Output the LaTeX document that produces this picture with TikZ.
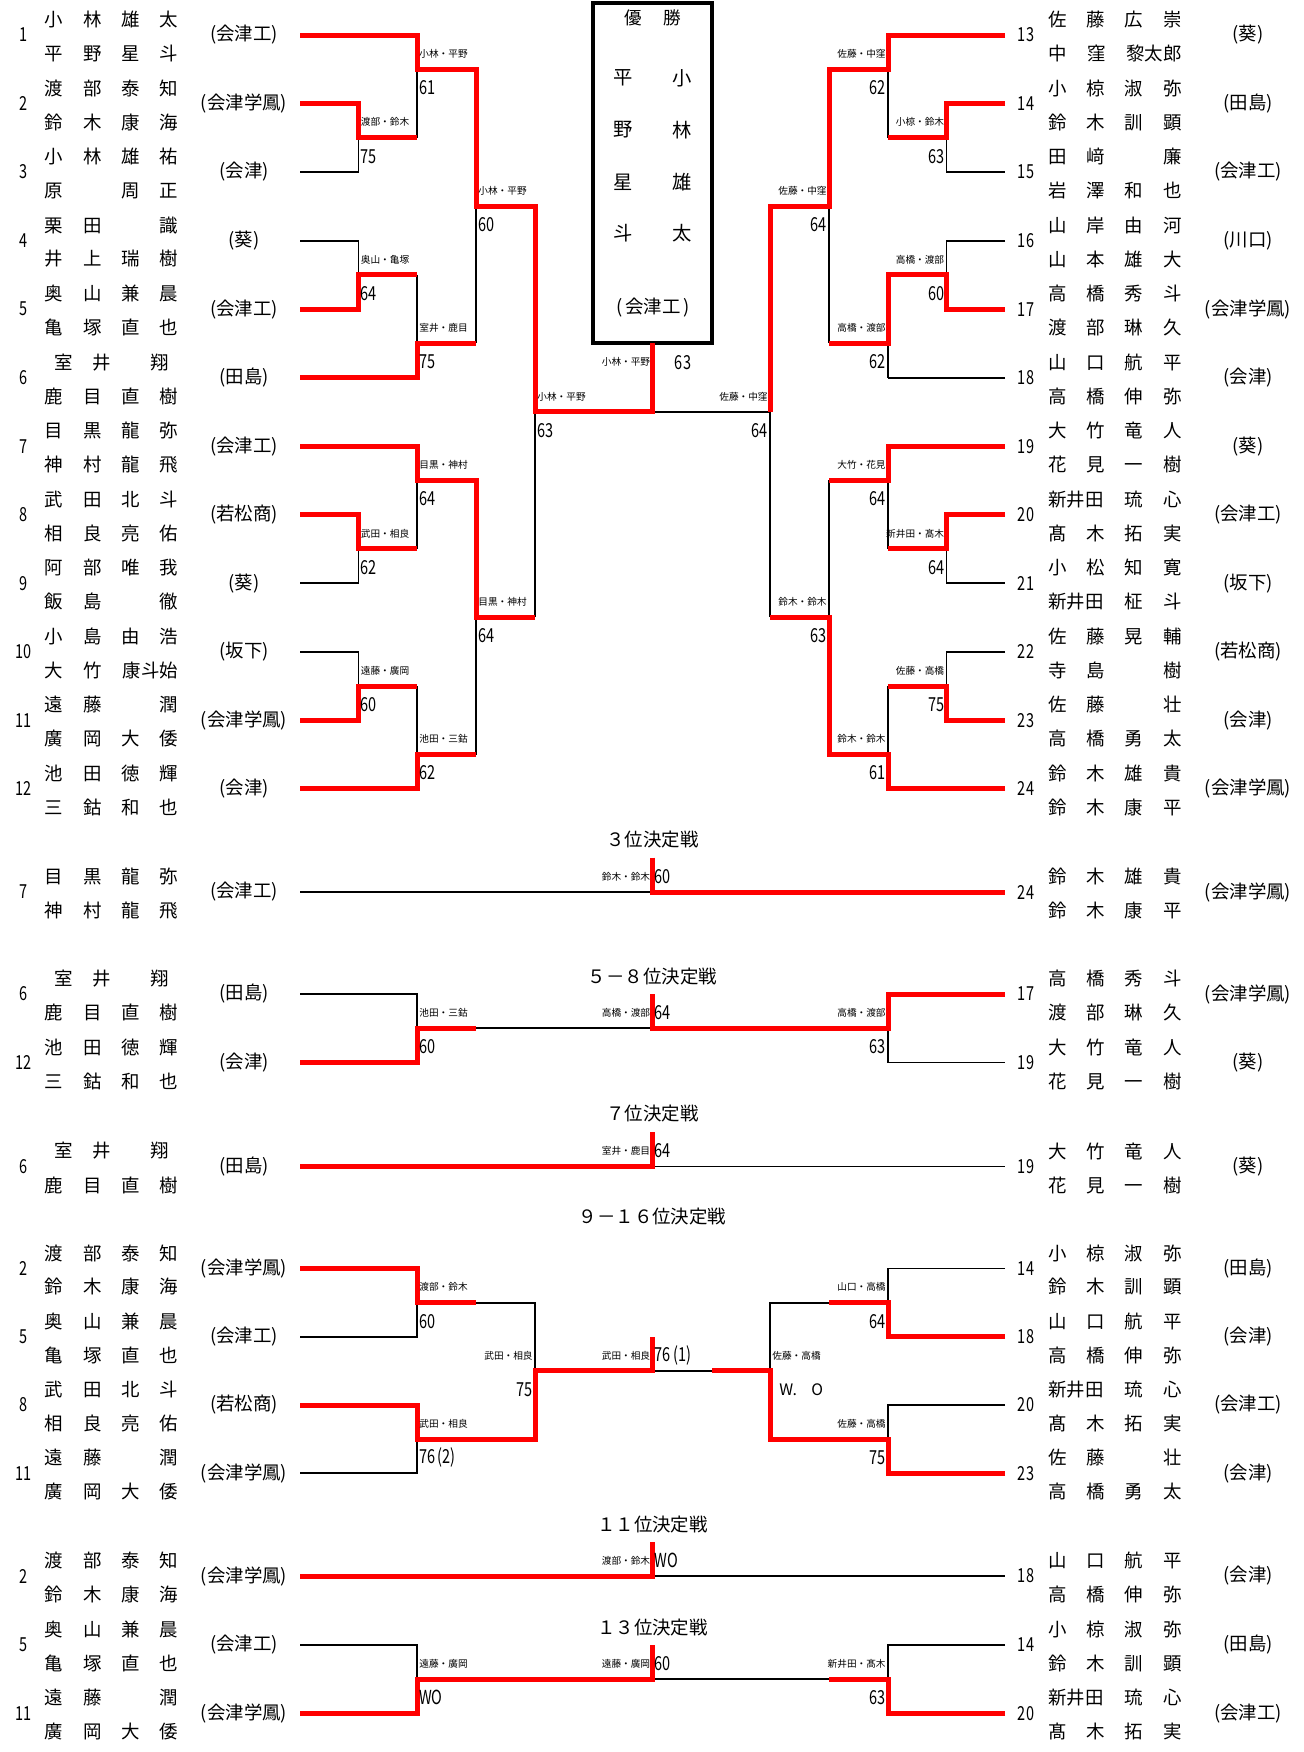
\documentclass[tikz,border=0pt]{standalone}
\usepackage{fontspec}
\setmainfont{Noto Sans CJK JP}
\usepackage{graphicx}
\usepackage{tikz}
\usetikzlibrary{positioning}

\newcommand\nmfont{\fontsize{10.5}{12}\selectfont}
\newcommand\lbfont{\fontsize{5.5}{6}\selectfont}
\newcommand\scfont{\fontsize{11}{12}\selectfont}
\newcommand\cnd[1]{\scalebox{0.75}[1]{#1}}
\newcommand\emc{\hphantom{口}}
\newcommand\nm[4]{\makebox[2.67cm][s]{#1\hfill#2\hfill#3\hfill#4}}
\newcommand\nmt[3]{\makebox[2.67cm][s]{#1\hfill#2\hfill#3}}
\newcommand\muroi{\makebox[2.67cm][l]{\hspace{0.2cm}室\hspace{0.39cm}井\hspace{0.79cm}翔}}

\tikzset{
  lose/.style={line width=1.1pt},
  win/.style={line width=2.85pt, red},
  seed/.style={font=\scfont, inner sep=0pt},
  pname/.style={font=\nmfont, inner sep=0pt},
  school/.style={font=\nmfont, inner sep=0pt},
  title/.style={font=\nmfont, inner sep=0pt},
  lbl/.style={font=\lbfont, inner sep=0pt, yshift=0.31cm},
  scr/.style={font=\scfont, inner sep=0pt, yshift=-0.37cm},
  cscr/.style={font=\scfont, inner sep=0pt, yshift=0.31cm},
  lr/.style={anchor=west, xshift=0.04cm},
  ll/.style={anchor=east, xshift=-0.04cm},
}

% entry: name, y, seed, upper player, lower player, school
\newcommand\entL[6]{%
  \node[seed] (#1) at (24,#2) {\cnd{#3}};
  \node[pname,yshift=0.31cm] (#1a) at (111.5,#2) {#4};
  \node[pname,yshift=-0.37cm] (#1b) at (111.5,#2) {#5};
  \node[school] (#1c) at (244,#2) {(#6)};}
\newcommand\entR[6]{%
  \node[seed] (#1) at (1026,#2) {\cnd{#3}};
  \node[pname,yshift=0.31cm] (#1a) at (1115,#2) {#4};
  \node[pname,yshift=-0.37cm] (#1b) at (1115,#2) {#5};
  \node[school] (#1c) at (1248,#2) {(#6)};}

\begin{document}
\begin{tikzpicture}[x=0.02cm,y=-0.02cm]
  \useasboundingbox (0,0) rectangle (1303,1752);

  % champion box
  \draw[line width=2.3pt] (593,3) rectangle (712,343);
  \node[font=\fontsize{10}{12}\selectfont, inner sep=0pt] (yusho) at (653,18) {優\hspace{0.44cm}勝};
  \foreach \y/\a/\b [count=\i] in {78/平/小,130/野/林,182/星/雄,233/斗/太}{
    \node[font=\fontsize{11}{12}\selectfont, inner sep=0pt] (cw\i) at (623,\y) {\a};
    \node[font=\fontsize{11}{12}\selectfont, inner sep=0pt] (ce\i) at (682,\y) {\b};
  }
  \node[school] (cs) at (653,308) {(\,会津工\,)};

  % main draw, rows of 34.27
  \begin{scope}[shift={(0,35)}, y=-0.6854cm]
    \foreach \za/\zb/\zc/\zd/\ze in {300/358.5/417/476/535, 1005/946.5/888/829/770}{
      \foreach \a/\b in {2/4,6/8,14/16,18/20}
        \draw[lose] (\za,\a) -| (\zb,\b) -- (\za,\b) (\zb,\a+1) -- (\zc,\a+1);
      \foreach \k in {0,10,12,22}
        \draw[lose] (\za,\k) -- (\zc,\k);
      \foreach \a/\b/\j in {0/3/1,7/10/9,12/15/13,19/22/21}
        \draw[lose] (\zc,\a) -- (\zc,\b) (\zc,\j) -- (\zd,\j);
      \foreach \a in {1,13}
        \draw[lose] (\zd,\a) -- (\zd,\a+8) (\zd,\a+4) -- (\ze,\a+4);
      \draw[lose] (\ze,5) -- (\ze,17) (\ze,11) -- (652.5,11);
    }
    % winners
    \draw[win] (300,0) -| (417,1) -| (476,5) -| (535,11) -| (652.5,9);
    \draw[win] (300,2) -| (358.5,3) -- (417,3);
    \draw[win] (300,8) -| (358.5,7) -- (417,7);
    \draw[win] (300,10) -| (417,9) -- (476,9);
    \draw[win] (300,12) -| (417,13) -| (476,17) -- (535,17);
    \draw[win] (300,14) -| (358.5,15) -- (417,15);
    \draw[win] (300,20) -| (358.5,19) -- (417,19);
    \draw[win] (300,22) -| (417,21) -- (476,21);
    \draw[win] (1005,0) -| (888,1) -| (829,5) -| (770,11);
    \draw[win] (1005,2) -| (946.5,3) -- (888,3);
    \draw[win] (1005,8) -| (946.5,7) -| (888,9) -- (829,9);
    \draw[win] (1005,12) -| (888,13) -- (829,13);
    \draw[win] (1005,14) -| (946.5,15) -- (888,15);
    \draw[win] (1005,20) -| (946.5,19) -- (888,19);
    \draw[win] (1005,22) -| (888,21) -| (829,17) -- (770,17);

    \foreach \x/\k/\t/\s [count=\i] in {417/1/小林・平野/61, 358.5/3/渡部・鈴木/75,
        358.5/7/奥山・亀塚/64, 417/9/室井・鹿目/75, 476/5/小林・平野/60,
        535/11/小林・平野/63, 417/13/目黒・神村/64, 358.5/15/武田・相良/62,
        358.5/19/遠藤・廣岡/60, 417/21/池田・三鈷/62, 476/17/目黒・神村/64}{
      \node[lbl,lr] (lp\i) at (\x,\k) {\t};
      \node[scr,lr] (ls\i) at (\x,\k) {\cnd{\s}};
    }
    \foreach \x/\k/\t/\s [count=\i] in {888/1/佐藤・中窪/62, 946.5/3/小椋・鈴木/63,
        946.5/7/高橋・渡部/60, 888/9/高橋・渡部/62, 829/5/佐藤・中窪/64,
        770/11/佐藤・中窪/64, 888/13/大竹・花見/64, 946.5/15/新井田・髙木/64,
        946.5/19/佐藤・高橋/75, 888/21/鈴木・鈴木/61, 829/17/鈴木・鈴木/63}{
      \node[lbl,ll] (rp\i) at (\x,\k) {\t};
      \node[scr,ll] (rs\i) at (\x,\k) {\cnd{\s}};
    }
    \node[lbl,ll] (fp) at (652.5,10) {小林・平野};
    \node[cscr] (fs) at (683,10) {\cnd{63}};

    \entL{l1}{0}{1}{\nm{小}{林}{雄}{太}}{\nm{平}{野}{星}{斗}}{会津工}
    \entL{l2}{2}{2}{\nm{渡}{部}{泰}{知}}{\nm{鈴}{木}{康}{海}}{会津学鳳}
    \entL{l3}{4}{3}{\nm{小}{林}{雄}{祐}}{\nm{原}{\emc}{周}{正}}{会津}
    \entL{l4}{6}{4}{\nm{栗}{田}{\emc}{識}}{\nm{井}{上}{瑞}{樹}}{葵}
    \entL{l5}{8}{5}{\nm{奥}{山}{兼}{晨}}{\nm{亀}{塚}{直}{也}}{会津工}
    \entL{l6}{10}{6}{\muroi}{\nm{鹿}{目}{直}{樹}}{田島}
    \entL{l7}{12}{7}{\nm{目}{黒}{龍}{弥}}{\nm{神}{村}{龍}{飛}}{会津工}
    \entL{l8}{14}{8}{\nm{武}{田}{北}{斗}}{\nm{相}{良}{亮}{佑}}{若松商}
    \entL{l9}{16}{9}{\nm{阿}{部}{唯}{我}}{\nm{飯}{島}{\emc}{徹}}{葵}
    \entL{l10}{18}{10}{\nm{小}{島}{由}{浩}}{\nmt{大}{竹}{康斗始}}{坂下}
    \entL{l11}{20}{11}{\nm{遠}{藤}{\emc}{潤}}{\nm{廣}{岡}{大}{倭}}{会津学鳳}
    \entL{l12}{22}{12}{\nm{池}{田}{徳}{輝}}{\nm{三}{鈷}{和}{也}}{会津}
    \entR{r13}{0}{13}{\nm{佐}{藤}{広}{崇}}{\nmt{中}{窪}{黎太郎}}{葵}
    \entR{r14}{2}{14}{\nm{小}{椋}{淑}{弥}}{\nm{鈴}{木}{訓}{顕}}{田島}
    \entR{r15}{4}{15}{\nm{田}{﨑}{\emc}{廉}}{\nm{岩}{澤}{和}{也}}{会津工}
    \entR{r16}{6}{16}{\nm{山}{岸}{由}{河}}{\nm{山}{本}{雄}{大}}{川口}
    \entR{r17}{8}{17}{\nm{高}{橋}{秀}{斗}}{\nm{渡}{部}{琳}{久}}{会津学鳳}
    \entR{r18}{10}{18}{\nm{山}{口}{航}{平}}{\nm{高}{橋}{伸}{弥}}{会津}
    \entR{r19}{12}{19}{\nm{大}{竹}{竜}{人}}{\nm{花}{見}{一}{樹}}{葵}
    \entR{r20}{14}{20}{\nmt{新井田}{琉}{心}}{\nm{髙}{木}{拓}{実}}{会津工}
    \entR{r21}{16}{21}{\nm{小}{松}{知}{寛}}{\nmt{新井田}{柾}{斗}}{坂下}
    \entR{r22}{18}{22}{\nm{佐}{藤}{晃}{輔}}{\nm{寺}{島}{\emc}{樹}}{若松商}
    \entR{r23}{20}{23}{\nm{佐}{藤}{\emc}{壮}}{\nm{高}{橋}{勇}{太}}{会津}
    \entR{r24}{22}{24}{\nm{鈴}{木}{雄}{貴}}{\nm{鈴}{木}{康}{平}}{会津学鳳}
  \end{scope}

  % 3rd place
  \node[title] (t3) at (652.5,840) {３位決定戦};
  \entL{a7}{892}{7}{\nm{目}{黒}{龍}{弥}}{\nm{神}{村}{龍}{飛}}{会津工}
  \entR{a24}{892}{24}{\nm{鈴}{木}{雄}{貴}}{\nm{鈴}{木}{康}{平}}{会津学鳳}
  \draw[lose] (300,892) -- (1005,892);
  \draw[win] (652.5,857.7) |- (1005,892);
  \node[lbl,ll] (ap) at (652.5,892) {鈴木・鈴木};
  \node[cscr,lr] (as) at (652.5,892) {\cnd{60}};

  % 5-8
  \node[title] (t5) at (652.5,977) {５－８位決定戦};
  \entL{b6}{994}{6}{\muroi}{\nm{鹿}{目}{直}{樹}}{田島}
  \entL{b12}{1062.5}{12}{\nm{池}{田}{徳}{輝}}{\nm{三}{鈷}{和}{也}}{会津}
  \entR{b17}{994}{17}{\nm{高}{橋}{秀}{斗}}{\nm{渡}{部}{琳}{久}}{会津学鳳}
  \entR{b19}{1062.5}{19}{\nm{大}{竹}{竜}{人}}{\nm{花}{見}{一}{樹}}{葵}
  \draw[lose] (300,994) -| (417,1062.5) -- (300,1062.5) (417,1028.2) -- (888,1028.2)
    (1005,994) -| (888,1062.5) -- (1005,1062.5);
  \draw[win] (300,1062.5) -| (417,1028.2) -- (476,1028.2);
  \draw[win] (652.5,994) |- (888,1028.2) |- (1005,994);
  \node[lbl,lr] (bp1) at (417,1028.2) {池田・三鈷};
  \node[scr,lr] (bs1) at (417,1028.2) {\cnd{60}};
  \node[lbl,ll] (bp2) at (652.5,1028.2) {高橋・渡部};
  \node[cscr,lr] (bs2) at (652.5,1028.2) {\cnd{64}};
  \node[lbl,ll] (bp3) at (888,1028.2) {高橋・渡部};
  \node[scr,ll] (bs3) at (888,1028.2) {\cnd{63}};

  % 7th
  \node[title] (t7) at (652.5,1114) {７位決定戦};
  \entL{c6}{1166.5}{6}{\muroi}{\nm{鹿}{目}{直}{樹}}{田島}
  \entR{c19}{1166.5}{19}{\nm{大}{竹}{竜}{人}}{\nm{花}{見}{一}{樹}}{葵}
  \draw[lose] (300,1166.5) -- (1005,1166.5);
  \draw[win] (300,1166.5) -| (652.5,1132.2);
  \node[lbl,ll] (cp) at (652.5,1166.5) {室井・鹿目};
  \node[cscr,lr] (cs) at (652.5,1166.5) {\cnd{64}};

  % 9-16
  \node[title] (t9) at (652.5,1217) {９－１６位決定戦};
  \entL{d2}{1268.5}{2}{\nm{渡}{部}{泰}{知}}{\nm{鈴}{木}{康}{海}}{会津学鳳}
  \entL{d5}{1336.8}{5}{\nm{奥}{山}{兼}{晨}}{\nm{亀}{塚}{直}{也}}{会津工}
  \entL{d8}{1405}{8}{\nm{武}{田}{北}{斗}}{\nm{相}{良}{亮}{佑}}{若松商}
  \entL{d11}{1473.3}{11}{\nm{遠}{藤}{\emc}{潤}}{\nm{廣}{岡}{大}{倭}}{会津学鳳}
  \entR{d14}{1268.5}{14}{\nm{小}{椋}{淑}{弥}}{\nm{鈴}{木}{訓}{顕}}{田島}
  \entR{d18}{1336.8}{18}{\nm{山}{口}{航}{平}}{\nm{高}{橋}{伸}{弥}}{会津}
  \entR{d20}{1405}{20}{\nmt{新井田}{琉}{心}}{\nm{髙}{木}{拓}{実}}{会津工}
  \entR{d23}{1473.3}{23}{\nm{佐}{藤}{\emc}{壮}}{\nm{高}{橋}{勇}{太}}{会津}
  \draw[lose] (300,1268.5) -| (417,1336.8) -- (300,1336.8)
    (300,1405) -| (417,1473.3) -- (300,1473.3)
    (417,1302.6) -| (535,1439.2) -- (417,1439.2) (535,1370.9) -- (770,1370.9)
    (1005,1268.5) -| (888,1336.8) -- (1005,1336.8)
    (1005,1405) -| (888,1473.3) -- (1005,1473.3)
    (888,1302.6) -| (770,1439.2) -- (888,1439.2);
  \draw[win] (300,1268.5) -| (417,1302.6) -- (476,1302.6);
  \draw[win] (300,1405) -| (417,1439.2) -| (535,1370.9) -| (652.5,1336.6);
  \draw[win] (1005,1336.8) -| (888,1302.6) -- (829,1302.6);
  \draw[win] (1005,1473.3) -| (888,1439.2) -| (770,1370.9) -- (711.5,1370.9);
  \node[lbl,lr] (dp1) at (417,1302.6) {渡部・鈴木};
  \node[scr,lr] (ds1) at (417,1302.6) {\cnd{60}};
  \node[lbl,lr] (dp2) at (417,1439.2) {武田・相良};
  \node[scr,lr] (ds2) at (417,1439.2) {\cnd{76\,(2)}};
  \node[lbl,ll] (dp3) at (535,1370.9) {武田・相良};
  \node[scr,ll] (ds3) at (535,1370.9) {\cnd{75}};
  \node[lbl,ll] (dp4) at (652.5,1370.9) {武田・相良};
  \node[cscr,lr] (ds4) at (652.5,1370.9) {\cnd{76\,(1)}};
  \node[lbl,ll] (dp5) at (888,1302.6) {山口・高橋};
  \node[scr,ll] (ds5) at (888,1302.6) {\cnd{64}};
  \node[lbl,ll] (dp6) at (888,1439.2) {佐藤・高橋};
  \node[scr,ll] (ds6) at (888,1439.2) {\cnd{75}};
  \node[lbl,lr] (dp7) at (770,1370.9) {佐藤・高橋};
  \node[scr,lr,xshift=0.14cm,font=\fontsize{9}{10}\selectfont] (ds7) at (770,1370.9) {W.\hspace{0.9em}O};

  % 11th
  \node[title] (t11) at (652.5,1525) {１１位決定戦};
  \entL{e2}{1576}{2}{\nm{渡}{部}{泰}{知}}{\nm{鈴}{木}{康}{海}}{会津学鳳}
  \entR{e18}{1576}{18}{\nm{山}{口}{航}{平}}{\nm{高}{橋}{伸}{弥}}{会津}
  \draw[lose] (300,1576) -- (1005,1576);
  \draw[win] (300,1576) -| (652.5,1541.7);
  \node[lbl,ll] (ep) at (652.5,1576) {渡部・鈴木};
  \node[cscr,lr] (es) at (652.5,1576) {\cnd{WO}};

  % 13th
  \node[title] (t13) at (652.5,1628) {１３位決定戦};
  \entL{f5}{1645}{5}{\nm{奥}{山}{兼}{晨}}{\nm{亀}{塚}{直}{也}}{会津工}
  \entL{f11}{1713.3}{11}{\nm{遠}{藤}{\emc}{潤}}{\nm{廣}{岡}{大}{倭}}{会津学鳳}
  \entR{f14}{1645}{14}{\nm{小}{椋}{淑}{弥}}{\nm{鈴}{木}{訓}{顕}}{田島}
  \entR{f20}{1713.3}{20}{\nmt{新井田}{琉}{心}}{\nm{髙}{木}{拓}{実}}{会津工}
  \draw[lose] (300,1645) -| (417,1713.3) -- (300,1713.3) (417,1679.2) -- (888,1679.2)
    (1005,1645) -| (888,1713.3) -- (1005,1713.3);
  \draw[win] (300,1713.3) -| (417,1679.2) -| (652.5,1645);
  \draw[win] (1005,1713.3) -| (888,1679.2) -- (829,1679.2);
  \node[lbl,lr] (fp1) at (417,1679.2) {遠藤・廣岡};
  \node[scr,lr] (fs1) at (417,1679.2) {\cnd{WO}};
  \node[lbl,ll] (fp2) at (652.5,1679.2) {遠藤・廣岡};
  \node[cscr,lr] (fs2) at (652.5,1679.2) {\cnd{60}};
  \node[lbl,ll] (fp3) at (888,1679.2) {新井田・髙木};
  \node[scr,ll] (fs3) at (888,1679.2) {\cnd{63}};
\end{tikzpicture}
\end{document}
